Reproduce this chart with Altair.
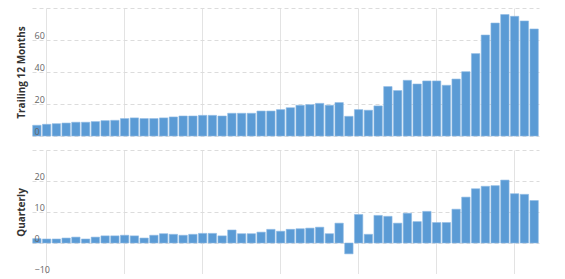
import altair as alt
import pandas as pd

ttm = [6.7, 7.3, 7.7, 8.1, 8.6, 8.6, 9.0, 9.6, 9.8, 10.9, 11.3, 10.9, 10.9, 11.3, 11.9, 12.5,
       12.5, 12.9, 12.9, 12.5, 14.2, 14.2, 14.2, 15.6, 15.6, 16.5, 17.7, 19.2, 19.6, 20.4, 19.2, 20.9,
       12.3, 16.5, 16.1, 18.8, 30.9, 28.4, 34.8, 32.5, 34.4, 34.4, 31.7, 35.6, 40.2, 51.5, 63.1, 70.6,
       75.9, 74.8, 71.9, 66.9]
quarterly = [1.4, 1.3, 1.3, 1.6, 1.9, 1.3, 1.9, 2.3, 2.3, 2.5, 2.3, 1.6, 2.5, 3.0, 2.8, 2.5,
             2.8, 3.1, 3.1, 2.3, 4.2, 3.0, 3.0, 3.5, 4.4, 3.8, 4.4, 4.6, 4.8, 5.1, 3.0, 6.4,
             -3.5, 9.2, 2.8, 8.9, 8.6, 6.4, 9.6, 6.9, 10.2, 6.6, 6.6, 10.9, 14.8, 17.5, 18.3, 18.5,
             20.3, 15.9, 15.7, 13.7]
ttm_ticks = [0, 20, 40, 60, 80]
q_ticks = [-10, 0, 10, 20, 30]
x_grid = [1.45 + 8 * k for k in range(7)]

n = len(ttm)
df = pd.DataFrame({"i": list(range(n)), "ttm": ttm, "q": quarterly})

BAR = "#5b9bd5"
W = 507


def panel(field, title, ticks, height):
    base = alt.Chart(df).transform_calculate(
        x0="datum.i + 0.07", x1="datum.i + 0.93"
    )
    xenc = alt.X("x0:Q", scale=alt.Scale(domain=[0, n], nice=False, zero=False),
                 axis=alt.Axis(values=x_grid, labels=False, ticks=False, domain=False,
                               grid=True, gridColor="#e3e3e3", gridWidth=1, title=None))
    yscale = alt.Scale(domain=[ticks[0], ticks[-1]], nice=False)
    bars = base.mark_bar(color=BAR, stroke="#8fbbe4", strokeWidth=0.6).encode(
        x=xenc,
        x2="x1:Q",
        y=alt.Y(f"{field}:Q", scale=yscale,
                axis=alt.Axis(values=ticks, labels=False, ticks=False, domain=False,
                              grid=True, gridColor="#dcdcdc", gridDash=[4, 3], gridWidth=1,
                              title=title, titleFontSize=10, titleFontWeight="bold",
                              titleColor="#333333", titleFont="Open Sans", titlePadding=6)),
        y2=alt.datum(0),
    )
    labels = base.mark_bar(opacity=0).encode(
        x=xenc,
        x2="x1:Q",
        y=alt.Y(f"{field}:Q", scale=yscale,
                axis=alt.Axis(values=ticks[:-1], labels=True, ticks=False, tickSize=0, domain=False,
                              grid=False, title=None, labelAlign="left", labelBaseline="bottom",
                              labelPadding=-2, labelFontSize=9, labelColor="#666666",
                              labelFont="Open Sans", zindex=1, orient="left")),
        y2=alt.datum(0),
    )
    return alt.layer(bars, labels).resolve_axis(y="independent").properties(width=W, height=height)


top = panel("ttm", "Trailing 12 Months", ttm_ticks, 128)
bottom = panel("q", "Quarterly", q_ticks, 124)

chart = alt.vconcat(top, bottom, spacing=13).properties(
    padding={"left": 16, "top": 8, "right": 5, "bottom": 0}
).configure_view(stroke=None)

chart.save("out.html", embed_options={"renderer": "svg", "actions": False})
